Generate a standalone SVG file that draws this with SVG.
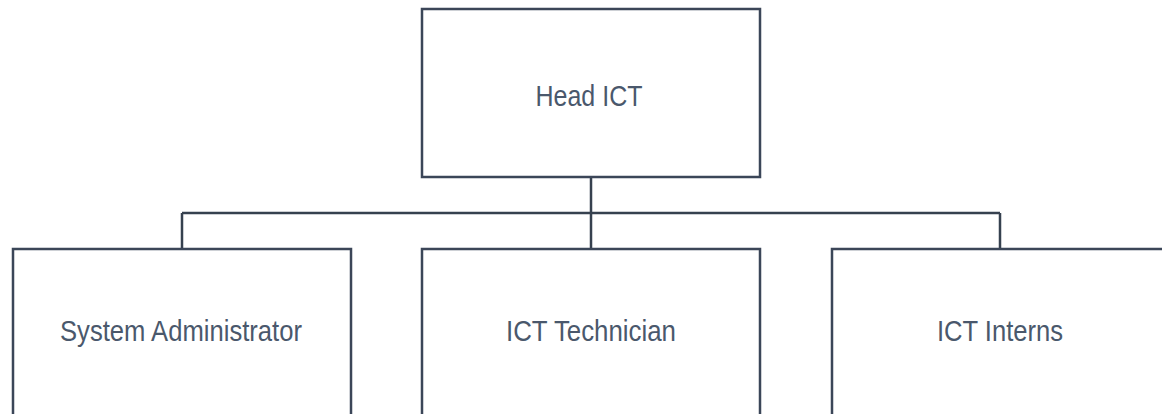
<svg xmlns="http://www.w3.org/2000/svg" width="1162" height="414" viewBox="0 0 1162 414">
  <style>
    .box { fill: #ffffff; stroke: #3b4658; stroke-width: 2.5; }
    .link { fill: none; stroke: #36414f; stroke-width: 2.5; }
    /* condensed look: glyphs squeezed to the set width with lengthAdjust */
    .label { font-family: "Liberation Sans", Arial, sans-serif; font-size: 30px; fill: #4a586c; text-anchor: middle; }
  </style>
  <rect width="1162" height="414" fill="#ffffff"/>
  <g id="connectors">
    <path class="link" d="M591 177 V213 M182 213 H1000 M182 213 V249 M591 213 V249 M1000 213 V249"/>
  </g>
  <g id="head-ict">
    <rect class="box" x="422" y="9" width="338" height="168"/>
    <text class="label" x="589" y="106" textLength="107" lengthAdjust="spacingAndGlyphs">Head ICT</text>
  </g>
  <g id="system-administrator">
    <rect class="box" x="13" y="249" width="338" height="180"/>
    <text class="label" x="181" y="341" textLength="242" lengthAdjust="spacingAndGlyphs">System Administrator</text>
  </g>
  <g id="ict-technician">
    <rect class="box" x="422" y="249" width="338" height="180"/>
    <text class="label" x="591" y="341" textLength="170" lengthAdjust="spacingAndGlyphs">ICT Technician</text>
  </g>
  <g id="ict-interns">
    <rect class="box" x="832" y="249" width="338" height="180"/>
    <text class="label" x="1000" y="341" textLength="126" lengthAdjust="spacingAndGlyphs">ICT Interns</text>
  </g>
</svg>
